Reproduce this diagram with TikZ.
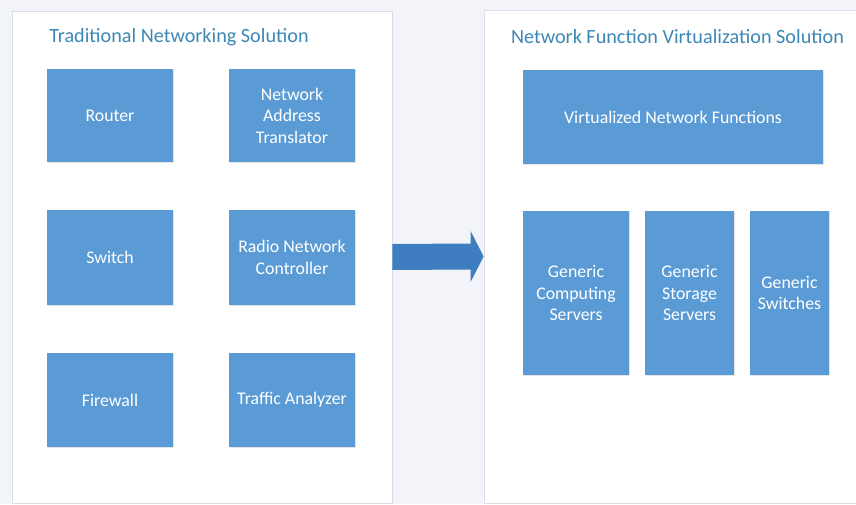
\documentclass[tikz,border=0pt]{standalone}
\usepackage{fontspec}
\setmainfont{Carlito}
\usetikzlibrary{calc,shadows}
\definecolor{bgc}{HTML}{F3F4F9}
\definecolor{panelline}{HTML}{D9DEE8}
\definecolor{boxblue}{HTML}{5B9BD5}
\definecolor{arrowblue}{HTML}{3E7DC0}
\definecolor{titleblue}{HTML}{3D88B5}
\tikzset{
  panel/.style={draw=panelline, line width=0.8pt, fill=white, inner sep=0pt},
  ptitle/.style={text=titleblue, font=\fontsize{20.2}{24}\selectfont, inner sep=0pt, anchor=center},
  fbox/.style={fill=boxblue, draw=none, text=white, align=center, inner sep=0pt,
    font=\fontsize{17.8}{21.5}\selectfont,
    drop shadow={opacity=0.22, shadow xshift=1.2pt, shadow yshift=-1.2pt}},
  bigarrow/.style={fill=arrowblue, draw=none}
}
\begin{document}
\begin{tikzpicture}[x=1pt,y=-1pt]
\useasboundingbox (0,0) rectangle (856,504);
\fill[bgc] (0,0) rectangle (856,504);
% panels
\node[panel, minimum width=380pt, minimum height=492pt] (lp) at (202,257) {};
\node[panel, minimum width=376pt, minimum height=493pt] (rp) at (672,256.5) {};
% titles
\node[ptitle] (lt) at (179,37) {Traditional Networking Solution};
\node[ptitle] (rt) at (677.5,37) {Network Function Virtualization Solution};
% left boxes
\node[fbox, minimum width=126pt, minimum height=93pt] (router) at (110,115.5) {Router};
\node[fbox, minimum width=126pt, minimum height=93pt] (nat) at (292,115.5) {Network\\Address\\Translator};
\node[fbox, minimum width=126pt, minimum height=95pt] (switch) at (110,257.5) {Switch};
\node[fbox, minimum width=126pt, minimum height=95pt] (rnc) at (292,257.5) {Radio Network\\Controller};
\node[fbox, minimum width=126pt, minimum height=94pt] (fw) at (110,400) {Firewall};
\node[fbox, minimum width=126pt, minimum height=94pt] (ta) at (292,400) {Traffic Analyzer};
% right boxes
\node[fbox, minimum width=300pt, minimum height=94pt] (vnf) at (673,117) {Virtualized Network Functions};
\node[fbox, minimum width=106pt, minimum height=164pt] (gcs) at (576,293) {Generic\\Computing\\Servers};
\node[fbox, minimum width=89pt, minimum height=164pt] (gss) at (689.5,293) {Generic\\Storage\\Servers};
\node[fbox, minimum width=79pt, minimum height=164pt] (gsw) at (789.5,293) {Generic\\Switches};
% block arrow
\fill[bigarrow] ($(lp.east)+(0,-13)$) -- ($(rp.west)+(-13,-13)$) -- ($(rp.west)+(-13,-25.5)$)
  -- (rp.west) -- ($(rp.west)+(-13,25.5)$) -- ($(rp.west)+(-13,13)$) -- ($(lp.east)+(0,13)$) -- cycle;
\end{tikzpicture}
\end{document}
